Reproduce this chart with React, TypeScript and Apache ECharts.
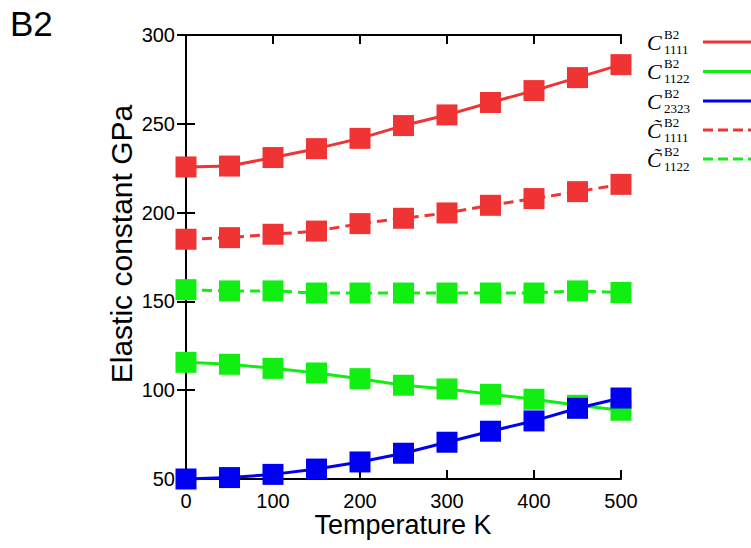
import React, { useEffect, useRef } from "react";
import * as echarts from "echarts";

const temperatures = [0, 50, 100, 150, 200, 250, 300, 350, 400, 450, 500];
const c1111 = [225.7, 226.2, 231, 236, 241.8, 249, 255, 262, 268.7, 276, 283.3];
const c1122 = [115.7, 114.6, 112.3, 109.7, 106.5, 102.8, 100.7, 97.7, 94.9, 91.5, 88.7];
const c2323 = [50.0, 50.8, 52.6, 55.6, 59.6, 64.5, 70.7, 76.9, 82.7, 89.8, 95.6];
const c1111t = [185, 185.9, 187.8, 189.6, 193.8, 196.8, 199.8, 204.1, 207.9, 211.8, 215.9];
const c1122t = [156.6, 155.9, 155.9, 154.7, 154.7, 154.7, 154.7, 154.7, 154.7, 155.9, 155.0];

const legendSubs = ["1111", "1122", "2323", "1111", "1122"];
const legendSymbol = ["C", "C", "C", "C\u0303", "C\u0303"];
const legendDashed = [false, false, false, true, true];

const RED = "#f03434";
const GREEN = "#11ee11";
const BLUE = "#0000f0";
const legendColors = [RED, GREEN, BLUE, RED, GREEN];

const SANS = "Liberation Sans, Arial, sans-serif";
const SERIF = "Liberation Serif, Times New Roman, serif";

export default function App() {
  const ref = useRef<HTMLDivElement>(null);
  useEffect(() => {
    if (!ref.current) return;
    const chart = echarts.init(ref.current, undefined, { renderer: "svg" });
    const mk = (name: string, data: number[], color: string, dashed: boolean) => ({
      name,
      type: "line",
      data: temperatures.map((t, i) => [t, data[i]]),
      symbol: "rect",
      symbolSize: 21,
      clip: false,
      itemStyle: { color },
      lineStyle: { color, width: 3, type: dashed ? [10, 6] : "solid" },
    });

    const rowY = [42, 71.5, 101, 130, 159];
    const legendGraphics: any[] = [];
    rowY.forEach((y, i) => {
      legendGraphics.push({
        type: "text",
        x: 647,
        y: y,
        style: { text: legendSymbol[i], font: `italic 22px ${SERIF}`, fill: "#000", textVerticalAlign: "middle", textAlign: "left" },
      });
      legendGraphics.push({
        type: "text",
        x: 664,
        y: y - 8,
        style: { text: "B2", font: `13px ${SERIF}`, fill: "#000", textVerticalAlign: "middle", textAlign: "left" },
      });
      legendGraphics.push({
        type: "text",
        x: 664,
        y: y + 7,
        style: { text: legendSubs[i], font: `13px ${SERIF}`, fill: "#000", textVerticalAlign: "middle", textAlign: "left" },
      });
      legendGraphics.push({
        type: "line",
        shape: { x1: 703, y1: y, x2: 751, y2: y },
        style: { stroke: legendColors[i], lineWidth: 3, lineDash: legendDashed[i] ? [10, 5] : null },
      });
    });

    chart.setOption({
      animation: false,
      backgroundColor: "#fff",
      grid: { left: 186, right: 130, top: 35, bottom: 69, containLabel: false },
      xAxis: [
        {
          type: "value",
          min: 0,
          max: 500,
          interval: 100,
          position: "bottom",
          axisLine: { show: true, lineStyle: { color: "#000", width: 2 } },
          axisTick: { show: true, inside: true, length: 9, lineStyle: { color: "#000", width: 2 } },
          axisLabel: { color: "#000", fontSize: 20, fontFamily: SANS, margin: 12 },
          splitLine: { show: false },
        },
        {
          type: "value",
          min: 0,
          max: 500,
          interval: 100,
          position: "top",
          axisLine: { show: true, lineStyle: { color: "#000", width: 2 } },
          axisTick: { show: true, inside: true, length: 9, lineStyle: { color: "#000", width: 2 } },
          axisLabel: { show: false },
          splitLine: { show: false },
        },
      ],
      yAxis: [
        {
          type: "value",
          min: 50,
          max: 300,
          interval: 50,
          position: "left",
          axisLine: { show: true, lineStyle: { color: "#000", width: 2 } },
          axisTick: { show: true, inside: true, length: 9, lineStyle: { color: "#000", width: 2 } },
          axisLabel: { color: "#000", fontSize: 20, fontFamily: SANS, margin: 11 },
          splitLine: { show: false },
        },
        {
          type: "value",
          min: 50,
          max: 300,
          interval: 50,
          position: "right",
          axisLine: { show: true, lineStyle: { color: "#000", width: 2 } },
          axisTick: { show: true, inside: true, length: 9, lineStyle: { color: "#000", width: 2 } },
          axisLabel: { show: false },
          splitLine: { show: false },
        },
      ],
      series: [
        mk("C1111", c1111, RED, false),
        mk("C1122", c1122, GREEN, false),
        mk("C2323", c2323, BLUE, false),
        mk("C~1111", c1111t, RED, true),
        mk("C~1122", c1122t, GREEN, true),
      ],
      graphic: [
        {
          type: "text",
          x: 10,
          y: 23,
          style: { text: "B2", font: `35px ${SANS}`, fill: "#000", textVerticalAlign: "middle" },
        },
        {
          type: "text",
          x: 403,
          y: 525,
          style: { text: "Temperature K", font: `27px ${SANS}`, fill: "#000", textAlign: "center", textVerticalAlign: "middle" },
        },
        {
          type: "text",
          x: 121,
          y: 244,
          rotation: Math.PI / 2,
          style: { text: "Elastic constant GPa", font: `30px ${SANS}`, fill: "#000", textAlign: "center", textVerticalAlign: "middle" },
        },
        ...legendGraphics,
      ],
    });
    return () => chart.dispose();
  }, []);
  return <div ref={ref} style={{ width: 751, height: 548, position: "absolute", left: 0, top: 0 }} />;
}
